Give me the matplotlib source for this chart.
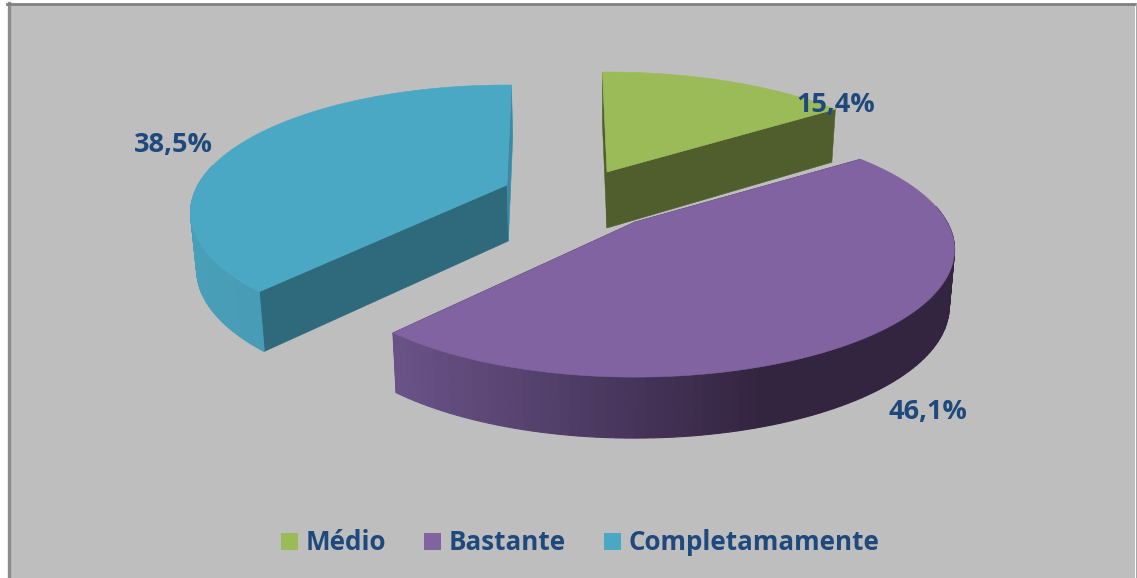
import numpy as np
import matplotlib
matplotlib.use("Agg")
import matplotlib.pyplot as plt
from matplotlib.colors import LinearSegmentedColormap
from matplotlib.patches import Patch, Polygon, Rectangle

categories = ["Médio", "Bastante", "Completamamente"]
values = [15.4, 46.1, 38.5]
labels = ["15,4%", "46,1%", "38,5%"]

top_colors = ["#9bbb59", "#8063a0", "#4aa8c4"]
cut_colors = ["#4f5e2c", "#3f3055", "#2e6a7c"]
back_colors = ["#4f5e2c", "#3f3055", "#3a8aa5"]
rim_colors = [["#5f7035", "#4f5e2c"],
              ["#6a5388", "#4f3c66", "#33243f", "#33243f"],
              ["#4a9fb8", "#3f90a8"]]
text_color = "#1f497d"

# apex of each exploded slice in pixels, its width and a small per-slice turn
apex = [(607, 172), (635, 222), (507, 185)]
radius_x = [316.0, 312.0, 309.0]
turn = [-1.0, -1.0, 1.0]
label_pos = [(836, 105), (928, 412), (173, 145)]

RY, PERSP = 121.6, 0.216


def project(theta, rx):
    # disc coordinates -> offset on screen, back of the disc is squeezed
    x = np.sin(theta)
    y = np.cos(theta)
    w = 1 + PERSP * y
    return rx * x / w, -RY * y / w, y


def extrude(px, py, y):
    # the base of the pie converges slightly towards the middle of the chart
    return px + (600 - px) * 0.015, py + 56 - 5 * y


fig = plt.figure(figsize=(11.37, 5.78), dpi=100, facecolor="white")
ax = fig.add_axes([0, 0, 1, 1])
ax.set_xlim(0, 1137)
ax.set_ylim(578, 0)
ax.axis("off")

ax.add_patch(Rectangle((8, 4), 1127, 580, facecolor="#bebebe", edgecolor="none", zorder=0))
ax.plot([8.5, 8.5], [3, 578], color="#8c8c8c", lw=2.4, zorder=0.5)
ax.plot([7, 1135], [4, 4], color="#808080", lw=2.0, zorder=0.5)
ax.plot([1135.5, 1135.5], [4, 578], color="#a8a8a8", lw=0.8, zorder=0.5)

starts = np.cumsum([0] + values[:-1]) / sum(values) * 360
spans = np.array(values) / sum(values) * 360

# blue first, then green, purple in front
for i, z in [(2, 1), (0, 2), (1, 3)]:
    ang = np.radians(np.linspace(starts[i] + turn[i], starts[i] + turn[i] + spans[i], 120))
    ox, oy = apex[i]
    dx, dy, dy0 = project(ang, radius_x[i])
    rim_x, rim_y = ox + dx, oy + dy
    base_x, base_y = extrude(rim_x, rim_y, dy0)
    apex_bx, apex_by = extrude(ox, oy, 0.0)

    # cut faces running from the apex to both ends of the arc
    ends = [(0, cut_colors[i]), (-1, back_colors[i])]
    for j, shade in ends:
        ax.add_patch(Polygon([(ox, oy), (rim_x[j], rim_y[j]), (base_x[j], base_y[j]),
                              (apex_bx, apex_by)], facecolor=shade, edgecolor=shade,
                             linewidth=0.4, zorder=z))

    # outer wall, shaded along x
    cmap = LinearSegmentedColormap.from_list("rim", rim_colors[i])
    span = rim_x.max() - rim_x.min()
    for k in range(len(ang) - 1):
        if np.cos(ang[k]) > 0.15:
            continue
        c = cmap((rim_x[k] - rim_x.min()) / span)
        ax.add_patch(Polygon([(rim_x[k], rim_y[k]), (rim_x[k + 1], rim_y[k + 1]),
                              (base_x[k + 1], base_y[k + 1]), (base_x[k], base_y[k])],
                             facecolor=c, edgecolor=c, linewidth=0.8, zorder=z))

    ax.add_patch(Polygon(np.column_stack([np.r_[ox, rim_x], np.r_[oy, rim_y]]),
                         facecolor=top_colors[i], edgecolor=top_colors[i],
                         linewidth=0.4, zorder=z))

for lab, (lx, ly) in zip(labels, label_pos):
    ax.text(lx, ly, lab, color=text_color, fontsize=19.5, fontweight="bold",
            family="Open Sans", ha="center", va="center", zorder=5)

handles = [Patch(facecolor=c, edgecolor="none") for c in top_colors]
leg = ax.legend(handles, categories, ncol=3, loc="center", bbox_to_anchor=(580, 543),
                bbox_transform=ax.transData, frameon=False, handlelength=0.65,
                handleheight=0.6, handletextpad=0.3, columnspacing=1.46,
                prop={"family": "Open Sans", "weight": "bold", "size": 18.7})
for t in leg.get_texts():
    t.set_color(text_color)

fig.savefig("out.png", dpi=100)
